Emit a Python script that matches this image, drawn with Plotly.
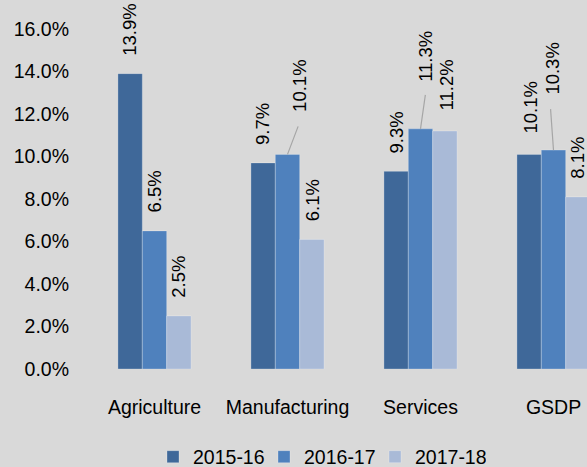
import plotly.graph_objects as go

categories = ["Agriculture", "Manufacturing", "Services", "GSDP"]
series_names = ["2015-16", "2016-17", "2017-18"]
values_2015_16 = [13.9, 9.7, 9.3, 10.1]
values_2016_17 = [6.5, 10.1, 11.3, 10.3]
values_2017_18 = [2.5, 6.1, 11.2, 8.1]
y_ticks = [0, 2, 4, 6, 8, 10, 12, 14, 16]
y_tick_labels = [f"{v:.1f}%" for v in y_ticks]

series_values = [values_2015_16, values_2016_17, values_2017_18]
colors = ["#3F6899", "#4F81BD", "#A9BAD7"]

# label placement tweaks (series index, category index) -> (dx px, gap px, leader (dx, dy) or None)
label_tweaks = {
    (1, 1): (12, 40, (11, 29)),
    (1, 2): (5, 45, (5, 35)),
    (2, 2): (2, 19, None),
    (0, 3): (1, 19, None),
    (1, 3): (-1, 53, (-3, 42)),
}
default_gap = 16
bar_px = 24.4  # width of one bar in px (for label offsets)

FONT = "Liberation Sans, Arial, sans-serif"

fig = go.Figure()
for name, vals, col in zip(series_names, series_values, colors):
    fig.add_trace(go.Bar(
        name=name, x=categories, y=vals,
        marker=dict(color=col, line=dict(color="rgba(255,255,255,0.25)", width=1)),
        hoverinfo="skip",
    ))

annotations = []
for i, vals in enumerate(series_values):
    for j, v in enumerate(vals):
        dx, gap, leader = label_tweaks.get((i, j), (0, default_gap, None))
        bar_off = (i - 1) * bar_px
        annotations.append(dict(
            x=categories[j], y=v, xref="x", yref="y",
            xshift=bar_off + dx, yshift=gap,
            text=f"{v:.1f}%", textangle=-90, showarrow=False,
            xanchor="center", yanchor="bottom",
            font=dict(family=FONT, size=18.5, color="#000000"),
        ))
        if leader is not None:
            annotations.append(dict(
                x=categories[j], y=v, xref="x", yref="y",
                xshift=bar_off, yshift=0,
                text=" ", font=dict(size=1), borderpad=0,
                showarrow=True, arrowhead=0, arrowwidth=1.2,
                arrowcolor="#A6A6A6", standoff=0,
                ax=leader[0], ay=-leader[1], axref="pixel", ayref="pixel",
            ))

fig.update_layout(
    width=587, height=467,
    margin=dict(l=88, r=0, t=29, b=98),
    paper_bgcolor="#D9D9D9", plot_bgcolor="#D9D9D9",
    barmode="group", bargap=0.45, bargroupgap=0,
    font=dict(family=FONT, size=19.5, color="#000000"),
    showlegend=True,
    legend=dict(
        orientation="h", xref="container", yref="container",
        x=153 / 587, xanchor="left", y=(467 - 457) / 467, yanchor="middle",
        entrywidth=66, entrywidthmode="pixels",
        font=dict(family=FONT, size=19.5, color="#000000"),
        bgcolor="rgba(0,0,0,0)", traceorder="normal",
    ),
    annotations=annotations,
    xaxis=dict(
        type="category", range=[-0.5, -0.5 + 499 / 133],
        showgrid=False, showline=False, zeroline=False, ticks="",
        ticklabelstandoff=24, tickfont=dict(family=FONT, size=19.5),
        fixedrange=True,
    ),
    yaxis=dict(
        range=[0, 16], tickvals=y_ticks, ticktext=y_tick_labels,
        showgrid=False, showline=False, zeroline=False, ticks="",
        ticklabelstandoff=18, tickfont=dict(family=FONT, size=19.5),
        fixedrange=True,
    ),
)

fig.write_html("out.html", config={"displayModeBar": False})
